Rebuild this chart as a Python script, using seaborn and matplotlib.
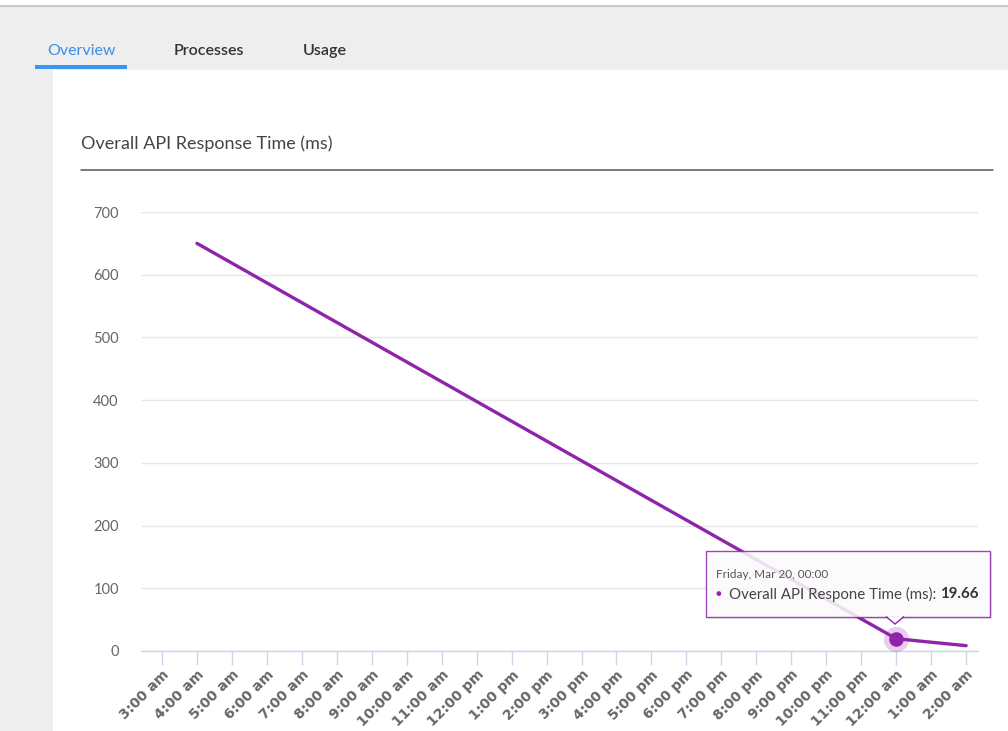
import numpy as np
import pandas as pd
import matplotlib
matplotlib.use("Agg")
import matplotlib.pyplot as plt
from matplotlib.patches import Rectangle, Polygon
import seaborn as sns

# x-axis categories (hourly buckets)
hours = ["3:00 am", "4:00 am", "5:00 am", "6:00 am", "7:00 am", "8:00 am",
         "9:00 am", "10:00 am", "11:00 am", "12:00 pm", "1:00 pm", "2:00 pm",
         "3:00 pm", "4:00 pm", "5:00 pm", "6:00 pm", "7:00 pm", "8:00 pm",
         "9:00 pm", "10:00 pm", "11:00 pm", "12:00 am", "1:00 am", "2:00 am"]
# hours that have a measured value
observed_hours = ["4:00 am", "12:00 am", "1:00 am", "2:00 am"]
response_ms = [650, 19.66, 14, 8.5]
y_ticks = [0, 100, 200, 300, 400, 500, 600, 700]

tab_labels = ["Overview", "Processes", "Usage"]
chart_title = "Overall API Response Time (ms)"
series_name = "Overall API Respone Time (ms)"
tooltip_date = "Friday, Mar 20, 00:00"
hover_hour = "12:00 am"

PURPLE = "#8e24aa"
W, H = 1008, 731

df = pd.DataFrame({"hour": observed_hours, "ms": response_ms})
df["pos"] = [hours.index(h) for h in df["hour"]]

sns.set_style("white")
plt.rcParams["font.family"] = ["Lato", "DejaVu Sans"]

fig = plt.figure(figsize=(W / 100, H / 100), dpi=100, facecolor="#eeeeee")


def fx(px):
    return px / W


def fy(py):
    return 1 - py / H


def chrome(x, y, w, h, color):
    fig.patches.append(Rectangle((fx(x), fy(y + h)), w / W, h / H, transform=fig.transFigure,
                                 facecolor=color, edgecolor="none", zorder=-2))


# page chrome
chrome(0, 0, W, 5, "white")
chrome(0, 5, W, 1.5, "#c9c9c9")
chrome(53, 70, W - 53, H - 70, "white")
chrome(35, 65, 92, 4, "#3b96f0")
tab_x = [81, 209, 325]
for lbl, x, c in zip(tab_labels, tab_x, ["#3b8ee6", "#333333", "#333333"]):
    fig.text(fx(x), fy(55), lbl, ha="center", va="baseline", fontsize=11.5,
             color=c, fontweight="semibold" if c != "#3b8ee6" else "normal")

fig.text(fx(81), fy(144), chart_title, ha="left", va="center", fontsize=13, color="#444444")
fig.lines.append(plt.Line2D([fx(81), fx(993)], [fy(170), fy(170)], transform=fig.transFigure,
                            color="#555555", lw=1.1))

# plot area
ax = fig.add_axes([fx(141), fy(651), fx(978) - fx(141), (651 - 212) / H])
ax.set_facecolor("none")
sns.lineplot(data=df, x="pos", y="ms", ax=ax, color=PURPLE, linewidth=2.4,
             sort=False, legend=False)

ax.set_xlim(-0.6, 23.34)
ax.set_ylim(0, 700)
ax.set_xticks(range(len(hours)))
ax.set_xticklabels(hours, rotation=45, ha="right", rotation_mode="anchor",
                   fontsize=10, fontweight="bold", color="#666666", family="DejaVu Sans")
ax.set_yticks(y_ticks)
ax.set_yticklabels([str(v) for v in y_ticks], fontsize=10.5, color="#666666")
ax.tick_params(axis="x", bottom=True, length=10, width=1, color="#ccd6eb", pad=2)
ax.tick_params(axis="y", left=False, length=0, pad=16)
ax.grid(axis="y", color="#e6e6e6", linewidth=1)
ax.set_axisbelow(True)
for s in ["top", "right", "left"]:
    ax.spines[s].set_visible(False)
ax.spines["bottom"].set_color("#ccd6eb")
ax.spines["bottom"].set_linewidth(1)
ax.set_xlabel("")
ax.set_ylabel("")

# hovered point with halo
hx = hours.index(hover_hour)
hy = response_ms[observed_hours.index(hover_hour)]
ax.scatter([hx], [hy], s=330, color=PURPLE, alpha=0.22, linewidths=0, clip_on=False, zorder=4)
ax.scatter([hx], [hy], s=110, color=PURPLE, linewidths=0, clip_on=False, zorder=5)

# tooltip
x0, y0, x1, y1 = 706, 551, 990, 617
fig.patches.append(Rectangle((fx(x0 + 2), fy(y1 + 2)), (x1 - x0) / W, (y1 - y0) / H,
                             transform=fig.transFigure, facecolor="#000000", alpha=0.08,
                             edgecolor="none", zorder=6))
fig.patches.append(Rectangle((fx(x0), fy(y1)), (x1 - x0) / W, (y1 - y0) / H,
                             transform=fig.transFigure, facecolor="white", alpha=0.85,
                             edgecolor=PURPLE, linewidth=1, zorder=7))
fig.patches.append(Polygon([[fx(886), fy(616.5)], [fx(895), fy(624)], [fx(904), fy(616.5)]],
                           closed=False, transform=fig.transFigure, facecolor="white",
                           edgecolor=PURPLE, linewidth=1, zorder=8))
fig.text(fx(716), fy(574), tooltip_date, ha="left", va="center", fontsize=8.5,
         color="#555555", zorder=9)
fig.text(fx(716), fy(594), "\u25CF", ha="left", va="center", fontsize=7, color=PURPLE, zorder=9)
t = fig.text(fx(729), fy(594), series_name + ": ", ha="left", va="center", fontsize=10.8,
             color="#444444", zorder=9)
fig.canvas.draw()
bb = t.get_window_extent()
fig.text(bb.x1 / W, fy(594), f"{hy:.2f}", ha="left", va="center", fontsize=10.8,
         fontweight="bold", color="#333333", zorder=9)

fig.savefig("out.png", dpi=100, facecolor=fig.get_facecolor())
